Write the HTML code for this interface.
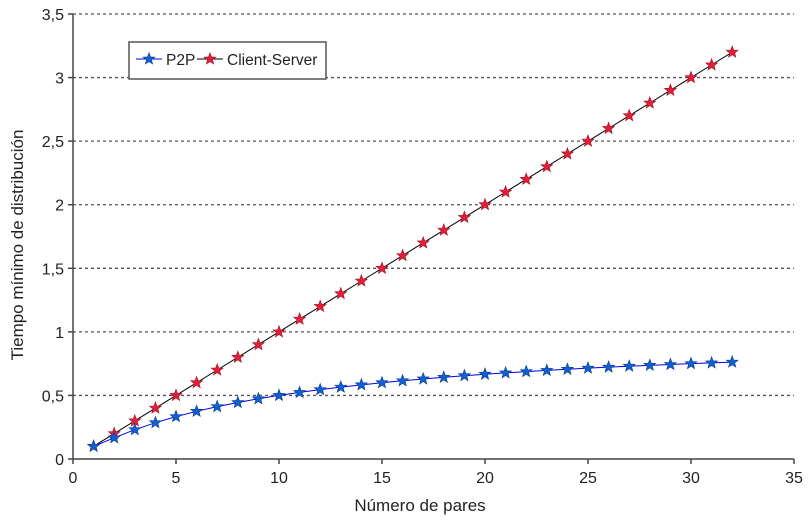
<!DOCTYPE html>
<html><head><meta charset="utf-8"><style>
body{margin:0;background:#fff}
svg{display:block;font-family:"Liberation Sans",sans-serif}
</style></head><body>
<svg id="c" width="809" height="522" viewBox="0 0 809 522">
<rect width="809" height="522" fill="#fff"/>
<g id="grid" stroke="#555" stroke-width="1.3" stroke-dasharray="3,3"></g>
<g id="ax" stroke="#444" stroke-width="1.5"></g>
<g id="lab" font-size="16" fill="#222"></g>
<text x="420" y="511" font-size="17" text-anchor="middle" fill="#222">Número de pares</text>
<text transform="translate(23,245) rotate(-90)" font-size="17" text-anchor="middle" fill="#222">Tiempo mínimo de distribución</text>
<g id="ser"></g>
<rect x="129" y="42" width="197" height="37" fill="#fff" stroke="#555" stroke-width="1.5"/>
<line x1="136" y1="59" x2="162" y2="59" stroke="#0000ee" stroke-width="1"/>
<line x1="197" y1="59" x2="223" y2="59" stroke="#000" stroke-width="1"/>
<g id="leg"></g>
<text x="166" y="65" font-size="15.5" fill="#222">P2P</text>
<text x="227" y="65" font-size="15.5" fill="#222">Client-Server</text>
</svg>
<script>
const NS="http://www.w3.org/2000/svg";
function el(p,t,a,txt){const e=document.createElementNS(NS,t);for(const k in a)e.setAttribute(k,a[k]);if(txt!==undefined)e.textContent=txt;document.getElementById(p).appendChild(e);return e;}
const X=v=>73+v*20.6, Y=v=>459-v*127.14;
for(let i=1;i<=7;i++){const y=Y(i*0.5);el('grid','line',{x1:73,x2:794,y1:y,y2:y});}
el('ax','line',{x1:73,y1:14,x2:73,y2:459});
el('ax','line',{x1:73,y1:459,x2:794,y2:459});
for(let i=0;i<=7;i++){const y=Y(i*0.5);el('ax','line',{x1:68,x2:73,y1:y,y2:y});
 el('lab','text',{x:64,y:y+6,'text-anchor':'end'},String(i*0.5).replace('.',','));}
for(let i=0;i<=7;i++){const x=X(i*5);el('ax','line',{x1:x,x2:x,y1:459,y2:464});
 el('lab','text',{x:x,y:483,'text-anchor':'middle'},String(i*5));}
function star(g,cx,cy,col){let p=[];for(let k=0;k<10;k++){const r=k%2?2.6:6.2,a=-Math.PI/2+k*Math.PI/5;p.push((cx+r*Math.cos(a)).toFixed(1)+','+(cy+r*Math.sin(a)).toFixed(1));}
 el(g,'polygon',{points:p.join(' '),fill:col,stroke:col==='#1060d0'?'#0a3a90':'#a01020','stroke-width':0.6});}
let cs=[],pp=[];
for(let n=1;n<=32;n++){cs.push([X(n),Y(n*0.1)]);pp.push([X(n),Y(Math.max(0.1,n/(10+n)))]);}
el('ser','polyline',{points:cs.map(p=>p.join(',')).join(' '),fill:'none',stroke:'#000','stroke-width':1});
el('ser','polyline',{points:pp.map(p=>p.join(',')).join(' '),fill:'none',stroke:'#0000ee','stroke-width':1});
cs.forEach(p=>star('ser',p[0],p[1],'#e0203a'));
pp.forEach(p=>star('ser',p[0],p[1],'#1060d0'));
star('leg',149,59,'#1060d0');star('leg',210,59,'#e0203a');
</script>
</body></html>
